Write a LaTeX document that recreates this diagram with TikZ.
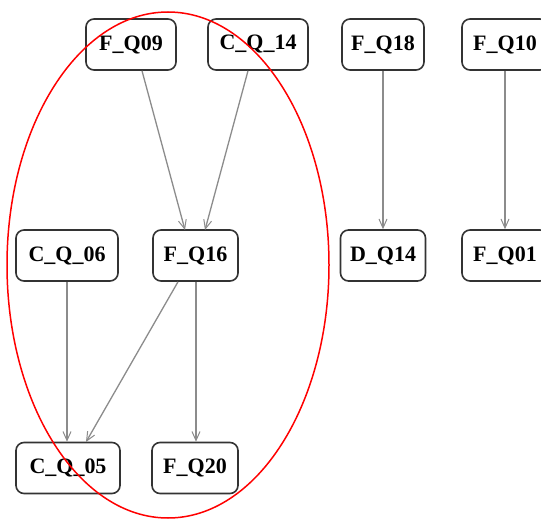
\documentclass[tikz,border=0pt]{standalone}
\usepackage{fontspec}
\setmainfont{Liberation Serif}
\usetikzlibrary{arrows.meta,shapes.geometric}
\begin{document}
\begin{tikzpicture}[x=1pt,y=-1pt,
  qnode/.style={draw=black!80, line width=1.6pt, rounded corners=8pt, fill=white,
    minimum height=51pt, inner sep=0pt, font=\fontsize{22}{25}\selectfont\bfseries},
  link/.style={draw=black!45, line width=1.3pt, -{Straight Barb[length=9pt,width=8pt,line width=1pt]}}]
\clip (0,0) rectangle (541,519);
\fill[white] (0,0) rectangle (541,519);
\node[qnode, minimum width=90pt] (fq09) at (131,44.5) {F\_Q09};
\node[qnode, minimum width=100pt] (cq14) at (258,44.5) {C\_Q\_14};
\node[qnode, minimum width=82pt] (fq18) at (383,44.5) {F\_Q18};
\node[qnode, minimum width=86pt] (fq10) at (505,44.5) {F\_Q10};
\node[qnode, minimum width=102pt] (cq06) at (67,255.5) {C\_Q\_06};
\node[qnode, minimum width=85pt] (fq16) at (195.5,255.5) {F\_Q16};
\node[qnode, minimum width=85pt] (dq14) at (383,255.5) {D\_Q14};
\node[qnode, minimum width=86pt] (fq01) at (505,255.5) {F\_Q01};
\node[qnode, minimum width=104pt] (cq05) at (68,468) {C\_Q\_05};
\node[qnode, minimum width=86pt] (fq20) at (195,468) {F\_Q20};
\coordinate (fq16a) at (185,230);
\coordinate (fq16b) at (205,230);
\coordinate (cq05b) at (86,442);
\draw[link] (fq09.south -| 142,0) -- (fq16a);
\draw[link] (cq14.south -| 248,0) -- (fq16b);
\draw[link] (fq18) -- (dq14);
\draw[link] (fq10) -- (fq01);
\draw[link] (cq06.south -| 67,0) -- (cq05.north -| 67,0);
\draw[link] (fq16.south -| 178,0) -- (cq05b);
\draw[link] (fq16.south -| 196,0) -- (fq20.north -| 196,0);
\node[draw=red, line width=1.5pt, ellipse, minimum width=322pt, minimum height=506pt, inner sep=0pt] (grp) at (168,265) {};
\end{tikzpicture}
\end{document}
